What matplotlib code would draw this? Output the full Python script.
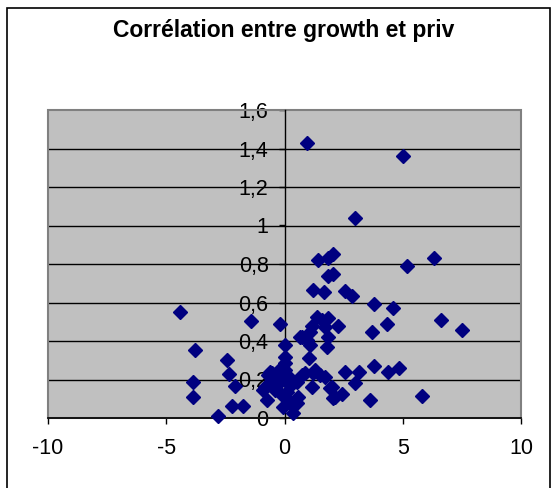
import matplotlib
matplotlib.use("Agg")
import matplotlib.pyplot as plt
from matplotlib.patches import Rectangle
from matplotlib.ticker import FuncFormatter, MultipleLocator

plt.rcParams['font.family'] = ['Liberation Sans', 'DejaVu Sans']
plt.rcParams['axes.unicode_minus'] = False

# données (growth, priv)
growth = [0.96, 5.02, 3.0, 6.33, 5.19, 1.43, 1.85, 2.04, 1.85, 2.04,
          1.19, 1.68, 2.56, 2.84, 3.78, 4.57, 3.68, 4.32, 6.6, 7.49,
          5.8, 4.85, 4.39, 3.78, 3.61, 3.16, 2.98, 2.56, 2.42, 2.06,
          1.92, 1.71, 1.85, 2.27, 1.71, 1.85, 1.78, 1.57, 1.36, 0.73,
          1.08, 1.08, 1.15, 1.05, 0.02, 0.0, 0.0, -0.19, -4.42, -1.42,
          -3.78, -2.44, -2.35, -2.09, -3.88, -3.88, -2.23, -1.74, -2.82, -0.75,
          -0.54, -0.82, -0.68, -0.47, -0.19, 0.23, 0.51, 0.87, 1.29, 1.5,
          1.15, 0.73, 0.37, 0.51, 0.37, -0.05, -0.12, 0.3, 0.58, -0.9,
          -0.4, 0.09, 0.65, 0.94, 1.22, -0.61, 0.0, 0.0, -0.3, 0.15,
          2.13, 1.99, 0.1, -0.25]
priv = [1.43, 1.36, 1.04, 0.83, 0.79, 0.82, 0.83, 0.85, 0.74, 0.75,
        0.665, 0.653, 0.66, 0.634, 0.592, 0.57, 0.448, 0.488, 0.51, 0.457,
        0.116, 0.261, 0.237, 0.27, 0.094, 0.24, 0.183, 0.237, 0.125, 0.102,
        0.154, 0.215, 0.518, 0.478, 0.474, 0.42, 0.37, 0.51, 0.526, 0.419,
        0.448, 0.379, 0.478, 0.31, 0.379, 0.318, 0.284, 0.488, 0.549, 0.506,
        0.353, 0.301, 0.229, 0.166, 0.189, 0.111, 0.062, 0.062, 0.01, 0.094,
        0.232, 0.163, 0.223, 0.189, 0.206, 0.171, 0.189, 0.232, 0.249, 0.223,
        0.163, 0.223, 0.18, 0.076, 0.028, 0.059, 0.12, 0.068, 0.11, 0.145,
        0.145, 0.137, 0.42, 0.405, 0.232, 0.24, 0.249, 0.2, 0.17, 0.22,
        0.11, 0.163, 0.1, 0.25]

W, H = 555, 488
fig = plt.figure(figsize=(W / 100, H / 100), dpi=100)

# cadre du graphique
fig.patches.append(Rectangle((7 / W, -0.05), 543 / W, 1.05 - 8 / H,
                             transform=fig.transFigure, fill=False,
                             edgecolor='black', linewidth=1.2))

ax = fig.add_axes([48 / W, 1 - 418 / H, 473 / W, 308 / H])
ax.set_facecolor('#C0C0C0')

ax.set_xlim(-10, 10)
ax.set_ylim(0, 1.6)
ax.xaxis.set_major_locator(MultipleLocator(5))
ax.yaxis.set_major_locator(MultipleLocator(0.2))
ax.yaxis.set_major_formatter(FuncFormatter(lambda v, p: f"{v:g}".replace('.', ',')))

for yv in [0.2, 0.4, 0.6, 0.8, 1.0, 1.2, 1.4]:
    ax.axhline(yv, color='black', linewidth=1.0, zorder=1)

ax.add_patch(Rectangle((0, 0), 1, 1, transform=ax.transAxes, fill=False,
                       edgecolor='#808080', linewidth=1.5, zorder=2, clip_on=False))

ax.spines['left'].set_position(('data', 0))
ax.spines['left'].set_zorder(3)
ax.spines['top'].set_visible(False)
ax.spines['right'].set_visible(False)
ax.spines['bottom'].set_linewidth(1.2)
ax.spines['left'].set_linewidth(1.0)

ax.tick_params(axis='both', direction='out', length=4.5, width=1.0,
               labelsize=15.5, colors='black')
ax.tick_params(axis='y', pad=7)
ax.tick_params(axis='x', pad=10)

ax.plot(growth, priv, linestyle='none', marker='D', markersize=7,
        color='#000080', zorder=4, clip_on=False)

fig.text(284 / W, 1 - 31 / H, 'Corrélation entre growth et priv',
         ha='center', va='center', fontsize=16.5, fontweight='bold')

fig.savefig('out.png', dpi=100)
